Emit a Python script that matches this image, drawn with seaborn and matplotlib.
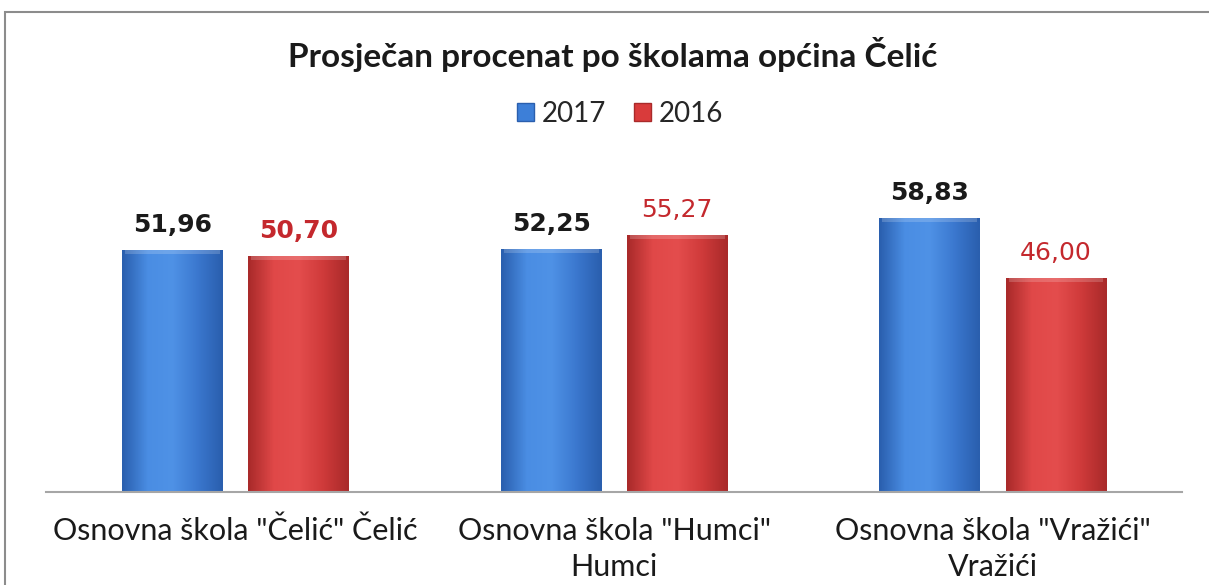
import numpy as np
import pandas as pd
import matplotlib
matplotlib.use("Agg")
import matplotlib.pyplot as plt
import seaborn as sns
from matplotlib.patches import Rectangle, Patch
from matplotlib.colors import LinearSegmentedColormap

schools = ['Osnovna škola "Čelić" Čelić',
           'Osnovna škola "Humci"\nHumci',
           'Osnovna škola "Vražići"\nVražići']
years = ["2017", "2016"]
vals_2017 = [51.96, 52.25, 58.83]
vals_2016 = [50.70, 55.27, 46.00]
labels_2017 = ["51,96", "52,25", "58,83"]
labels_2016 = ["50,70", "55,27", "46,00"]
bold_2016 = [True, False, False]

df = pd.DataFrame({
    "skola": schools * 2,
    "godina": [years[0]] * 3 + [years[1]] * 3,
    "vrijednost": vals_2017 + vals_2016,
})

blue = "#3d7fd8"
red = "#d93b3b"

sns.set_style("white")
plt.rcParams["font.family"] = ["Lato", "DejaVu Sans"]

fig = plt.figure(figsize=(12.09, 5.85), dpi=100)
ax = fig.add_axes([0.038, 0.159, 0.94, 0.557])

sns.barplot(data=df, x="skola", y="vrijednost", hue="godina",
            palette=[blue, red], width=0.666, gap=0.2, ax=ax,
            legend=False, linewidth=0, saturation=1)

# gradient shading over each bar for the glossy look
grad = {blue: ["#2a5fae", "#4a8de3", "#4f92e6", "#3b78cf", "#2a5fae"],
        red: ["#a92a2a", "#e04848", "#e44d4d", "#cf3a3a", "#a92a2a"]}
for cont, col in zip(ax.containers, [blue, red]):
    cmap = LinearSegmentedColormap.from_list("g", grad[col])
    for bar in cont:
        x0, w = bar.get_x(), bar.get_width()
        h = bar.get_height()
        im = ax.imshow(np.linspace(0, 1, 64).reshape(1, -1), cmap=cmap,
                       extent=[x0, x0 + w, 0, h], aspect="auto", zorder=2)
        im.set_clip_path(bar)
        bar.set_zorder(1)
        # lighter top rim
        ax.add_patch(Rectangle((x0 + w * 0.03, h - 0.9), w * 0.94, 0.9,
                               color="white", alpha=0.18, zorder=3, lw=0))
ax.set_xlim(-0.5, 2.5)
ax.set_ylim(0, 70)

for bar, lab in zip(ax.containers[0], labels_2017):
    ax.text(bar.get_x() + bar.get_width() / 2, bar.get_height() + 5.4, lab,
            ha="center", va="center", fontsize=18, fontweight="bold",
            color="#1a1a1a", family="DejaVu Sans")
for bar, lab, b in zip(ax.containers[1], labels_2016, bold_2016):
    ax.text(bar.get_x() + bar.get_width() / 2, bar.get_height() + 5.4, lab,
            ha="center", va="center", fontsize=18,
            fontweight="bold" if b else "normal",
            color="#c4282d", family="DejaVu Sans")

sns.despine(ax=ax, left=True, top=True, right=True)
ax.spines["bottom"].set_color("#a6a6a6")
ax.spines["bottom"].set_linewidth(1.5)
ax.set_yticks([])
ax.set_xlabel("")
ax.set_ylabel("")
ax.tick_params(axis="x", length=0, labelsize=22, pad=18, colors="#1a1a1a")
for t in ax.get_xticklabels():
    t.set_linespacing(1.35)

fig.text(0.507, 0.907, "Prosječan procenat po školama općina Čelić",
         ha="center", va="center", fontsize=24, fontweight="bold",
         color="#1a1a1a")

handles = [Patch(facecolor=blue, edgecolor="#2a5fae"),
           Patch(facecolor=red, edgecolor="#a92a2a")]
fig.legend(handles, years, loc="center", bbox_to_anchor=(0.513, 0.805),
           ncol=2, frameon=False, fontsize=20, handlelength=0.6,
           handleheight=0.6, handletextpad=0.3, columnspacing=1.0)

# outer frame of the chart
fig.patches.append(Rectangle((5 / 1209, -0.05), 1.2, 1.05 - 12 / 585,
                             transform=fig.transFigure, fill=False,
                             edgecolor="#8c8c8c", lw=1.5))

fig.savefig("out.png", dpi=100)
